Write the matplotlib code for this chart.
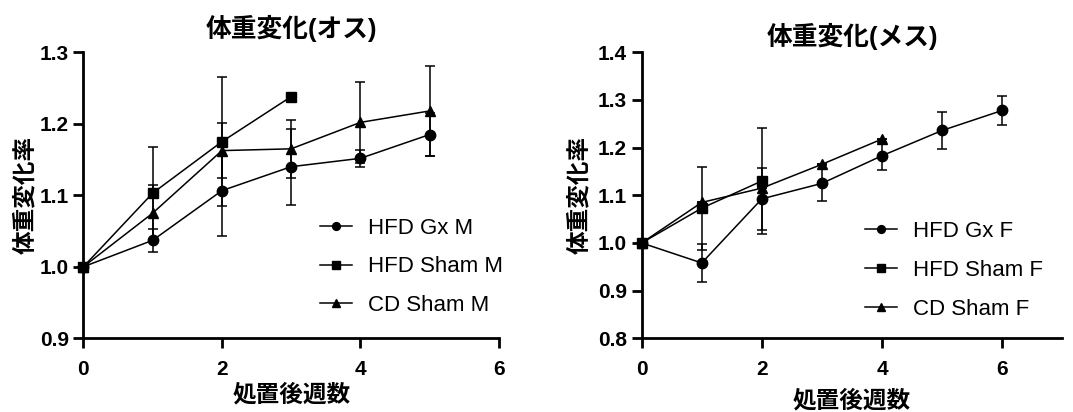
import numpy as np
import matplotlib
matplotlib.use("Agg")
import matplotlib.pyplot as plt
from matplotlib.lines import Line2D

plt.rcParams['font.family'] = ['Liberation Sans', 'Noto Sans CJK JP', 'DejaVu Sans']

# male data (week, mean, sd)
weeks_m = [0, 1, 2, 3, 4, 5]
gx_m = [1.0, 1.037, 1.1065, 1.140, 1.1517, 1.185]
gx_m_err = [0, 0.016, 0.063, 0.053, 0.012, 0.030]
sham_m_weeks = [0, 1, 2, 3]
sham_m = [1.0, 1.103, 1.175, 1.238]
sham_m_err = [0, 0.064, 0.090, 0]
cd_m = [1.0, 1.075, 1.1625, 1.165, 1.202, 1.218]
cd_m_err = [0, 0.039, 0.038, 0.041, 0.057, 0.063]

# female data
weeks_f = [0, 1, 2, 3, 4, 5, 6]
gx_f = [1.0, 0.958, 1.0925, 1.125, 1.183, 1.236, 1.278]
gx_f_err = [0, 0.040, 0.065, 0.038, 0.029, 0.039, 0.031]
sham_f_weeks = [0, 1, 2]
sham_f = [1.0, 1.073, 1.130]
sham_f_err = [0, 0.087, 0.112]
cd_f_weeks = [0, 1, 2, 3, 4]
cd_f = [1.0, 1.085, 1.115, 1.165, 1.218]
cd_f_err = [0, 0, 0, 0, 0]

fig = plt.figure(figsize=(10.73, 4.12), dpi=100)
ax1 = fig.add_axes([0.0777, 0.179, 0.3873, 0.694])
ax2 = fig.add_axes([0.598, 0.179, 0.392, 0.694])

def series(ax, x, y, e, marker, label, ms):
    ax.errorbar(x, y, yerr=e, color='black', marker=marker, markersize=ms,
                linewidth=1.1, elinewidth=1.1, capsize=3.5, capthick=1.1,
                clip_on=False, zorder=3)
    return Line2D([], [], color='black', marker=marker, markersize=ms * 0.75,
                  linewidth=1.1, label=label)

h1 = [series(ax1, weeks_m, gx_m, gx_m_err, 'o', 'HFD Gx M', 7.5),
      series(ax1, sham_m_weeks, sham_m, sham_m_err, 's', 'HFD Sham M', 7.5),
      series(ax1, weeks_m, cd_m, cd_m_err, '^', 'CD Sham M', 7)]

h2 = [series(ax2, weeks_f, gx_f, gx_f_err, 'o', 'HFD Gx F', 7.5),
      series(ax2, sham_f_weeks, sham_f, sham_f_err, 's', 'HFD Sham F', 7.5),
      series(ax2, cd_f_weeks, cd_f, cd_f_err, '^', 'CD Sham F', 7)]

ax1.set_xlim(0, 6)
ax1.set_ylim(0.9, 1.3)
ax1.set_xticks([0, 2, 4, 6])
ax1.set_yticks([0.9, 1.0, 1.1, 1.2, 1.3])
ax2.set_xlim(0, 7)
ax2.set_ylim(0.8, 1.4)
ax2.set_xticks([0, 2, 4, 6])
ax2.set_yticks([0.8, 0.9, 1.0, 1.1, 1.2, 1.3, 1.4])

for ax in [ax1, ax2]:
    for s in ['top', 'right']:
        ax.spines[s].set_visible(False)
    for s in ['left', 'bottom']:
        ax.spines[s].set_linewidth(2)
    ax.tick_params(width=2, length=7.5, labelsize=15)
    ax.tick_params(axis='x', pad=8)
    ax.tick_params(axis='y', pad=3)
    ax.yaxis.set_major_formatter(matplotlib.ticker.FormatStrFormatter('%.1f'))
    for lab in ax.get_xticklabels() + ax.get_yticklabels():
        lab.set_fontweight('bold')

ax1.set_ylabel('体重変化率', fontsize=17, fontweight='bold', labelpad=2)
ax2.set_ylabel('体重変化率', fontsize=17, fontweight='bold', labelpad=5)

ax1.set_title('体重変化(オス)', fontsize=18.5, fontweight='bold', pad=11)
ax2.set_title('体重変化(メス)', fontsize=18.5, fontweight='bold', pad=5)

ax1.set_xlabel('処置後週数', fontsize=17, fontweight='bold', labelpad=3)
ax2.set_xlabel('処置後週数', fontsize=17, fontweight='bold', labelpad=8)

fig.legend(handles=h1, frameon=False, loc='center left', bbox_to_anchor=(0.298, 0.352),
           fontsize=16, handlelength=1.45, labelspacing=0.78, handletextpad=0.7,
           borderpad=0, borderaxespad=0)
fig.legend(handles=h2, frameon=False, loc='center left', bbox_to_anchor=(0.806, 0.3435),
           fontsize=16, handlelength=1.45, labelspacing=0.8, handletextpad=0.7,
           borderpad=0, borderaxespad=0)

plt.savefig('out.png', dpi=100)
